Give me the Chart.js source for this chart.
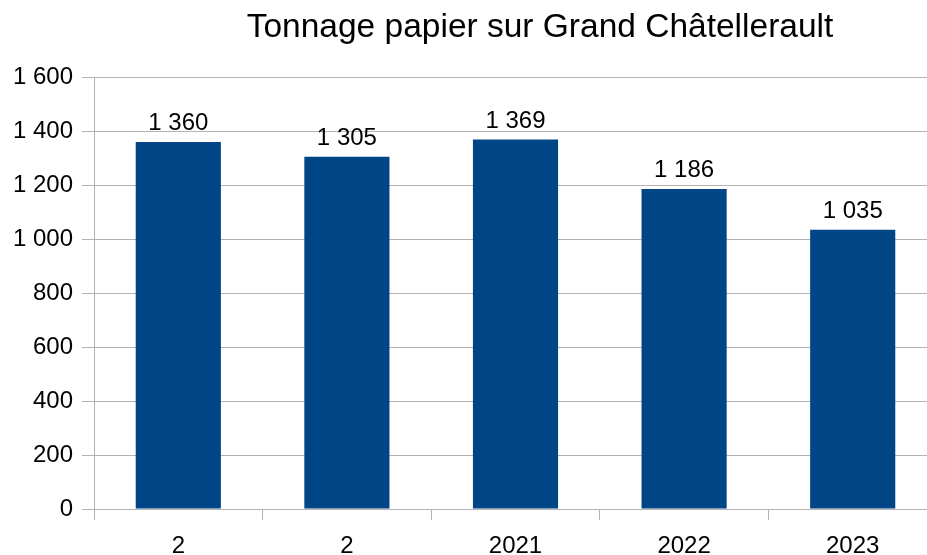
<!DOCTYPE html>
<html>
<head>
<meta charset="utf-8">
<script src="https://cdn.jsdelivr.net/npm/chart.js@4/dist/chart.umd.min.js"></script>
<style>
  html, body { margin: 0; padding: 0; overflow: hidden; background: #fff; width: 927px; height: 555px; }
  #wrap { position: absolute; left: 0; top: 0; width: 1080px; height: 555px; }
</style>
</head>
<body>
<div id="wrap"><canvas id="c"></canvas></div>
<script>
const categories = ["2", "2", "2021", "2022", "2023"];
const tonnage = [1360, 1305, 1369, 1186, 1035];
const titleText = "Tonnage papier sur Grand Châtellerault";

function fmt(v) {
  return String(v).replace(/\B(?=(\d{3})+(?!\d))/g, " ");
}

const FONT = "'Liberation Sans', Arial, sans-serif";
const GRID = "#b3b3b3";

const valueLabels = {
  id: "valueLabels",
  afterDatasetsDraw(chart) {
    const ctx = chart.ctx;
    const meta = chart.getDatasetMeta(0);
    ctx.save();
    ctx.font = "24px " + FONT;
    ctx.fillStyle = "#000";
    ctx.textAlign = "center";
    ctx.textBaseline = "alphabetic";
    meta.data.forEach((bar, i) => {
      ctx.fillText(fmt(chart.data.datasets[0].data[i]), bar.x, bar.y - 12);
    });
    ctx.restore();
  }
};

new Chart(document.getElementById("c"), {
  type: "bar",
  data: {
    labels: categories,
    datasets: [{
      data: tonnage,
      backgroundColor: "#004586",
      borderWidth: 0,
      barPercentage: 0.505,
      categoryPercentage: 1.0
    }]
  },
  options: {
    responsive: true,
    maintainAspectRatio: false,
    devicePixelRatio: 1,
    animation: false,
    layout: { padding: 0 },
    plugins: {
      legend: { display: false },
      tooltip: { enabled: false },
      title: {
        display: true,
        text: titleText,
        color: "#000",
        font: { family: FONT, size: 33.5, weight: "normal" },
        padding: { top: 8, bottom: 29 }
      }
    },
    scales: {
      x: {
        offset: true,
        grid: {
          offset: true,
          drawOnChartArea: false,
          drawTicks: true,
          tickLength: 11,
          color: GRID
        },
        border: { display: false },
        ticks: {
          color: "#000",
          font: { family: FONT, size: 24 },
          padding: 12,
          maxRotation: 0,
          autoSkip: false
        },
        afterFit(scale) { scale.height = 46; }
      },
      y: {
        min: 0,
        max: 1600,
        grid: {
          color: GRID,
          tickLength: 12,
          drawTicks: true
        },
        border: { display: true, color: GRID },
        ticks: {
          stepSize: 200,
          color: "#000",
          font: { family: FONT, size: 24 },
          padding: 9,
          callback: (v) => fmt(v)
        },
        afterFit(scale) { scale.width = 94; }
      },
      yRight: {
        position: "right",
        display: true,
        grid: { display: false, drawTicks: false },
        border: { display: false },
        ticks: { display: false },
        afterFit(scale) { scale.width = 143; }
      }
    }
  },
  plugins: [valueLabels]
});
</script>
</body>
</html>
